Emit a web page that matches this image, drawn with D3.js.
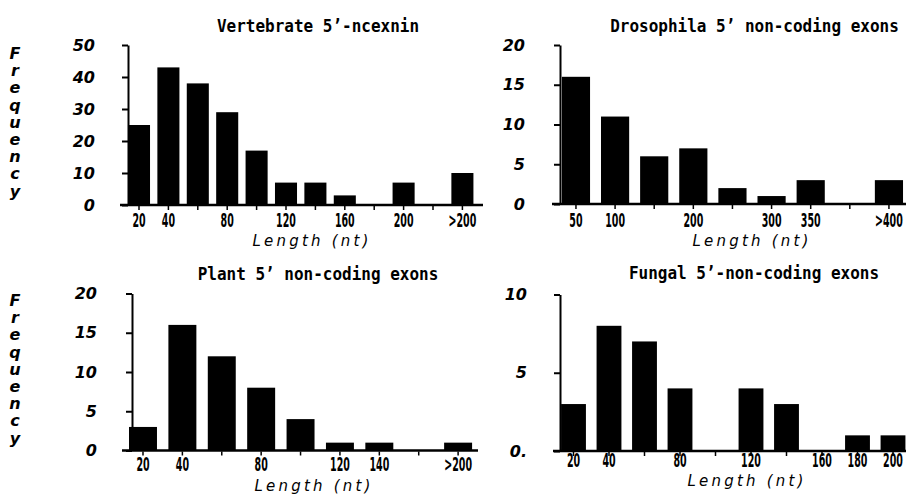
<!DOCTYPE html>
<html><head><meta charset="utf-8">
<script src="https://cdn.jsdelivr.net/npm/d3@7"></script>
<style>body{margin:0;background:#fff}</style>
</head><body><svg id="c" width="906" height="495"></svg>
<script>
// ---- data ----
const vertebrateBins = ["20","40","60","80","100","120","140","160","180","200","220",">200"];
const vertebrateCounts = [25,43,38,29,17,7,7,3,0,7,0,10];
const vertebrateTickLabels = ["20","40","80","120","160","200",">200"];
const vertebrateYTicks = [0,10,20,30,40,50];

const drosophilaBins = ["50","100","150","200","250","300","350","400",">400"];
const drosophilaCounts = [16,11,6,7,2,1,3,0,3];
const drosophilaTickLabels = ["50","100","200","300","350",">400"];
const drosophilaYTicks = [0,5,10,15,20];

const plantBins = ["20","40","60","80","100","120","140","160",">200"];
const plantCounts = [3,16,12,8,4,1,1,0,1];
const plantTickLabels = ["20","40","80","120","140",">200"];
const plantYTicks = [0,5,10,15,20];

const fungalBins = ["20","40","60","80","100","120","140","160","180","200"];
const fungalCounts = [3,8,7,4,0,4,3,0,1,1];
const fungalTickLabels = ["20","40","80","120","160","180","200"];
const fungalYTicks = [0,5,10];

const panelTitles = ["Vertebrate 5’-ncexnin","Drosophila 5’ non-coding exons","Plant 5’ non-coding exons","Fungal 5’-non-coding exons"];
const xAxisTitle = "Length (nt)";
const yAxisTitle = "Frequency";

// ---- layout ----
const layouts = [
  {xr:[124.3,477.1], pad:0.25, ax:128, y0:205, yTop:45, tp:27, baseL:120, baseR:483, tx:318, ty:32, lx:312, ly:246, tl:227},
  {xr:[556.4,908.5], pad:0.28, ax:560, y0:204, yTop:45, tp:29, baseL:552, baseR:906, tx:754.5, ty:32, lx:752, ly:246, tl:227},
  {xr:[123.3,477.8], pad:0.29, ax:132, y0:450.5, yTop:293.5, tp:29, baseL:122, baseR:478, tx:318, ty:280, lx:314, ly:491, tl:471},
  {xr:[555.75,910.75], pad:0.30, ax:560, y0:451, yTop:294.5, tp:27, baseL:553, baseR:906, tx:754, ty:279, lx:747, ly:486, tl:467}
];
const panels = [
  {bins:vertebrateBins, counts:vertebrateCounts, labels:vertebrateTickLabels, yTicks:vertebrateYTicks},
  {bins:drosophilaBins, counts:drosophilaCounts, labels:drosophilaTickLabels, yTicks:drosophilaYTicks},
  {bins:plantBins, counts:plantCounts, labels:plantTickLabels, yTicks:plantYTicks},
  {bins:fungalBins, counts:fungalCounts, labels:fungalTickLabels, yTicks:fungalYTicks}
];

const svg = d3.select("#c");
svg.append("rect").attr("width",906).attr("height",495).attr("fill","#fff");

panels.forEach((p,i) => {
  const L = layouts[i];
  const g = svg.append("g");
  const x = d3.scaleBand().domain(p.bins).range(L.xr).paddingInner(L.pad).paddingOuter(L.pad/2);
  const yMax = d3.max(p.yTicks);
  const y = d3.scaleLinear().domain([0,yMax]).range([L.y0,L.yTop]);

  // bars
  g.selectAll("rect.bar").data(p.bins.map((b,k)=>({b, v:p.counts[k]})).filter(d=>d.v>0))
    .join("rect").attr("class","bar")
    .attr("x",d=>x(d.b)).attr("width",x.bandwidth())
    .attr("y",d=>y(d.v)).attr("height",d=>y(0)-y(d.v))
    .attr("fill","#000");

  // baseline
  g.append("line").attr("x1",L.baseL).attr("x2",L.baseR).attr("y1",y(0)).attr("y2",y(0))
    .attr("stroke","#000").attr("stroke-width",2.5);

  // x axis
  const xa = g.append("g").attr("transform",`translate(0,${y(0)+1})`)
    .call(d3.axisBottom(x).tickSize(4).tickFormat(d => p.labels.includes(d) ? d : ""));
  xa.select(".domain").remove();
  xa.selectAll(".tick line").attr("stroke","#000").attr("stroke-width",1.5);
  xa.selectAll(".tick text").attr("dy",0).attr("y",L.tl - (y(0)+1))
    .attr("transform","scale(0.5,1)")
    .attr("font-family","DejaVu Sans").attr("font-weight","bold").attr("font-size",19).attr("fill","#000");

  // y axis
  const ya = g.append("g").attr("transform",`translate(${L.ax},0)`)
    .call(d3.axisLeft(y).tickValues(p.yTicks).tickSize(6).tickSizeOuter(0).tickPadding(L.tp)
      .tickFormat(d => (i===3 && d===0) ? "0." : String(d)));
  ya.select(".domain").attr("stroke","#000").attr("stroke-width",2);
  ya.selectAll(".tick line").attr("stroke","#000").attr("stroke-width",2);
  ya.selectAll(".tick text").attr("font-family","DejaVu Sans").attr("font-weight","bold")
    .attr("font-style","italic").attr("font-size",16).attr("fill","#000");

  // title
  g.append("g").attr("transform",`translate(${L.tx},${L.ty})`)
    .append("text").attr("transform","scale(1,1.12)").attr("text-anchor","middle")
    .attr("font-family","DejaVu Sans Mono").attr("font-weight","bold").attr("font-size",16)
    .text(panelTitles[i]);
  // x title
  g.append("text").attr("x",L.lx).attr("y",L.ly).attr("text-anchor","middle")
    .attr("font-family","DejaVu Sans").attr("font-style","italic").attr("font-size",15)
    .attr("letter-spacing",3.2)
    .text(xAxisTitle);
});

// vertical stacked "Frequency" labels
[{x:15, y:59},{x:15, y:306}].forEach(pos => {
  const t = svg.append("text").attr("font-family","DejaVu Sans").attr("font-weight","bold")
    .attr("font-style","italic").attr("font-size",16).attr("text-anchor","middle");
  yAxisTitle.split("").forEach((ch,k) => {
    t.append("tspan").attr("x",pos.x).attr("y",pos.y + k*17.2).text(ch);
  });
});
</script></body></html>
